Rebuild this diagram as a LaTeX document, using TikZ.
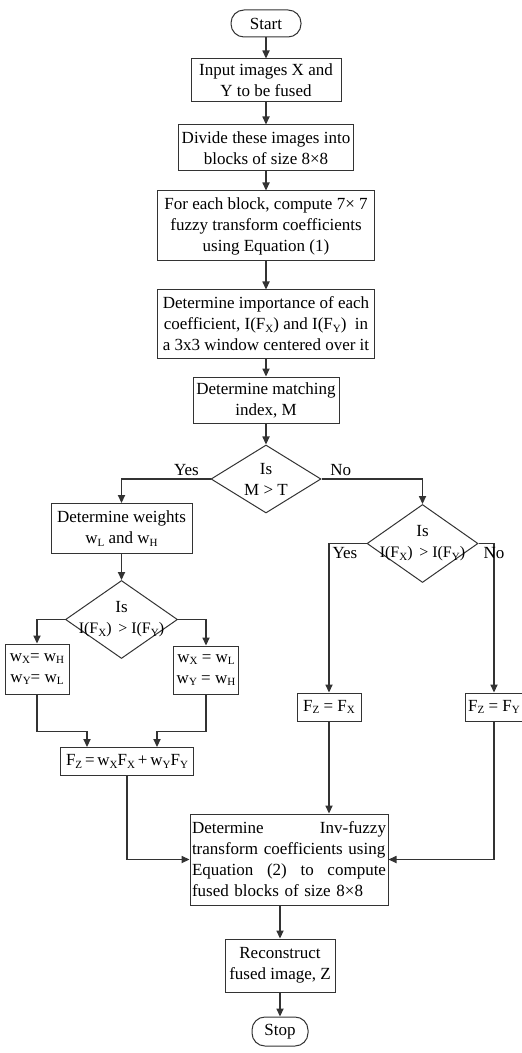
\documentclass[tikz,border=0pt]{standalone}
\usepackage{fontspec}
\setmainfont{Liberation Serif}
\usetikzlibrary{shapes.geometric, arrows.meta, positioning}
\definecolor{flowgray}{HTML}{333333}
\newcommand{\zerowd}[1]{\makebox[0pt]{#1}}
\newcommand{\lowsub}[1]{\raisebox{-0.3ex}{\fontsize{5.5}{6}\selectfont #1}}

\begin{document}
\begin{tikzpicture}[
    font=\fontsize{8.5}{10.5}\selectfont,
    block/.style={rectangle, draw=flowgray, line width=0.5pt, align=center, inner xsep=1.5pt, inner ysep=1pt},
    term/.style={rectangle, draw=flowgray, line width=0.5pt, rounded corners=6.5pt, inner sep=1pt},
    decision/.style={diamond, draw=flowgray, line width=0.5pt, aspect=1, inner sep=0pt, align=center},
    arrow/.style={-{Triangle[length=4pt, width=3.6pt]}, line width=0.55pt, draw=flowgray},
    lbl/.style={inner sep=1.5pt}
]
\useasboundingbox (0,0) rectangle (261pt,-526.5pt);
\node[term, minimum width=35pt, minimum height=13.5pt] (start) at (133pt,-11.75pt) {Start};
\node[block, minimum width=75pt, minimum height=21.5pt, below=10.5pt of start] (input) {Input images X and\\ Y to be fused};
\node[block, minimum width=86pt, minimum height=23pt, below=11pt of input] (divide) {Divide these images into\\ blocks of size 8×8};
\node[block, minimum width=108.5pt, minimum height=35pt, below=9.5pt of divide] (foreach) {For each block, compute 7× 7\\ fuzzy transform coefficients\\ using Equation (1)};
\node[block, minimum width=108.5pt, minimum height=34pt, below=14pt of foreach] (importance) {Determine importance of each\\ coefficient, I(F\lowsub{X}) and I(F\lowsub{Y})\ \ in\\ a 3x3 window centered over it};
\node[block, minimum width=73pt, minimum height=23pt, below=9pt of importance] (matching) {Determine matching\\ index, M};
\node[decision, minimum width=55pt, minimum height=34pt, below=10.5pt of matching] (testm) {\zerowd{Is}\\ \zerowd{M > T}};
% left branch
\node[block, minimum width=70.5pt, minimum height=25pt, below=12pt of testm.west, xshift=-44.5pt] (weights) {Determine weights\\ w\lowsub{L} and w\lowsub{H}};
\node[decision, minimum width=56pt, minimum height=39pt, below=13pt of weights] (testl) {\zerowd{Is}\\ \zerowd{\fontsize{8}{10}\selectfont I(F\lowsub{X})\ \,> I(F\lowsub{Y})}};
\node[block, minimum width=32pt, minimum height=25pt, below=12pt of testl.west, xshift=-14pt] (wxh) {w\lowsub{X}= w\lowsub{H}\\ w\lowsub{Y}= w\lowsub{L}};
\node[block, minimum width=32.5pt, minimum height=24pt, below=13pt of testl.east, xshift=14pt] (wxl) {w\lowsub{X} = w\lowsub{L}\\ w\lowsub{Y} = w\lowsub{H}};
\node[block, minimum width=66.5pt, minimum height=14pt, below=44pt of testl, xshift=2.75pt] (fzw) {F\lowsub{Z}\,=\,w\lowsub{X}F\lowsub{X}\,+\,w\lowsub{Y}F\lowsub{Y}};
% right branch
\node[decision, minimum width=55.5pt, minimum height=39pt, below=12.5pt of testm.east, xshift=50.5pt] (testr) {\zerowd{Is}\\ \zerowd{\fontsize{8}{10}\selectfont I(F\lowsub{X})\ \,> I(F\lowsub{Y})}};
\node[block, minimum width=32pt, minimum height=14pt, below=74.5pt of testr.west, xshift=-18.75pt] (fzx) {F\lowsub{Z} = F\lowsub{X}};
\node[block, minimum width=29pt, minimum height=14pt, below=74.5pt of testr.east, xshift=7.75pt] (fzy) {F\lowsub{Z} = F\lowsub{Y}};
% merge
\node[block, text width=97pt, align=left, inner xsep=1pt, minimum height=45.5pt, below=46pt of fzx, xshift=-20pt] (inv) {Determine\hfill Inv-fuzzy\\ transform coefficients using\\ Equation\hfill (2)\hfill to\hfill compute\\ fused blocks of size 8×8};
\node[block, minimum width=55pt, minimum height=26.5pt, below=16.5pt of inv, xshift=-4.5pt] (recon) {Reconstruct\\ fused image, Z};
\node[term, minimum width=28pt, minimum height=14.5pt, below=12pt of recon] (stop) {Stop};

\draw[arrow] (start) -- (input);
\draw[arrow] (input) -- (divide);
\draw[arrow] (divide) -- (foreach);
\draw[arrow] (foreach) -- (importance);
\draw[arrow] (importance) -- (matching);
\draw[arrow] (matching) -- (testm);
\draw[arrow] (testm.west) -- node[lbl, above, pos=0.27] {Yes} (weights.north |- testm.west) -- (weights.north);
\draw[arrow] (testm.east) -- node[lbl, above, pos=0.19] {No} (testr.north |- testm.east) -- (testr.north);
\draw[arrow] (weights) -- (testl);
\draw[arrow] (testl.west) -| (wxh.north);
\draw[arrow] (testl.east) -| (wxl.north);
\draw[arrow] (wxh.south) -- ++(0,-18.5pt) -| ([xshift=-20pt]fzw.north);
\draw[arrow] (wxl.south) -- ++(0,-18.5pt) -| ([xshift=15pt]fzw.north);
\draw[arrow] (fzw.south) |- (inv.west);
\draw[arrow] (testr.west) -| node[lbl, below right] {Yes} (fzx.north);
\draw[arrow] (testr.east) -| node[lbl, below] {No} (fzy.north);
\draw[arrow] (fzx.south) -- (fzx.south |- inv.north);
\draw[arrow] (fzy.south) |- (inv.east);
\draw[arrow] (recon.north |- inv.south) -- (recon.north);
\draw[arrow] (recon) -- (stop);
\end{tikzpicture}
\end{document}
